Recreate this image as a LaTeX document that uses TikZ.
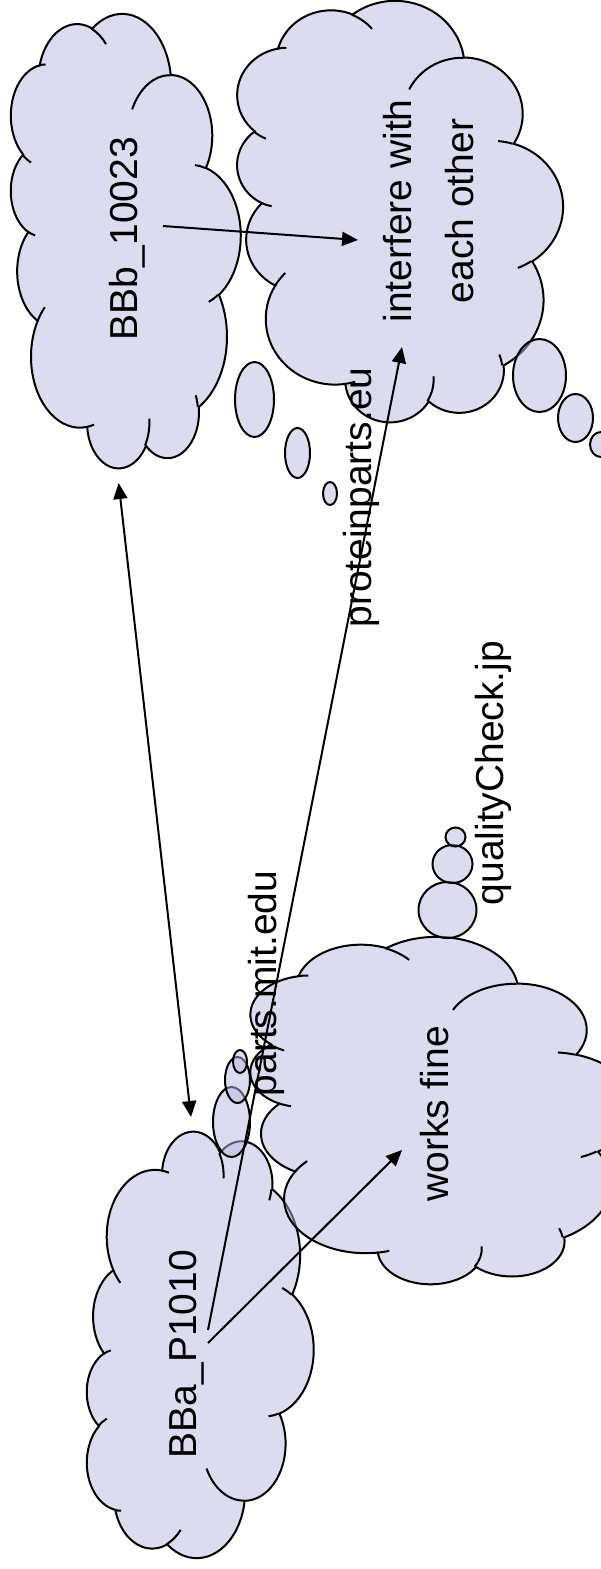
\documentclass[tikz,border=0pt]{standalone}
\usepackage{fontspec}
\setmainfont{Liberation Sans}
\usetikzlibrary{arrows.meta}

\definecolor{puffblue}{RGB}{185,185,225}

% one bump of a cloud: x radius, y radius, start and sweep angle (angles of the ray)
\tikzset{pa/.code n args={4}{%
  \pgfmathsetmacro\pafrom{atan2(#1*sin(#3),#2*cos(#3))}%
  \pgfmathsetmacro\pasweep{mod(atan2(#1*sin(#3+#4),#2*cos(#3+#4))-\pafrom+720,360)}%
  \tikzset{x radius=#1, y radius=#2, start angle=\pafrom, delta angle=\pasweep}}}

% cloud standing on its side: #1 left, #2 corner it grows from, #3 width,
% #4 height (upwards; negative grows downwards, i.e. a flipped cloud)
\newcommand{\thoughtcloud}[4]{%
  \pgfmathsetmacro\cloudw{#3/8640}%
  \pgfmathsetmacro\cloudh{#4/8640}%
  \begin{scope}[shift={(#1,#2)}, x={(0pt,\cloudh pt)}, y={(\cloudw pt,0pt)}]
    \filldraw[puff] (390,1437)
      arc[pa={675.3}{919.0}{-190.4875}{123.7805}]
      arc[pa={533.3}{726.7}{-144.1024}{89.9452}]
      arc[pa={436.5}{594.5}{-145.8079}{99.7230}]
      arc[pa={485.7}{659.5}{-130.9861}{117.2417}]
      arc[pa={533.3}{727.3}{-78.7089}{109.0269}]
      arc[pa={677.5}{922.0}{-46.2673}{130.2690}]
      arc[pa={578.5}{786.7}{0.6250}{114.0333}]
      arc[pa={675.2}{921.5}{22.4516}{115.1726}]
      arc[pa={772.0}{1054.3}{66.2426}{75.7110}]
      arc[pa={436.0}{591.8}{-274.9421}{146.7356}]
      arc[pa={434.5}{594.5}{-246.8285}{152.5189}]
      -- cycle;
    \draw (469.3,2617.7) arc[pa={434.5}{594.5}{86.742}{26.4295}]
          (692.8,3489.9) arc[pa={436.0}{591.8}{73.6105}{11.4475}]
          (1647.8,3909.0) arc[pa={675.2}{921.5}{137.6242}{14.0811}]
          (2882.7,3475.1) arc[pa={675.2}{921.5}{6.4533}{15.9984}]
          (3412.9,2295.4) arc[pa={578.5}{786.7}{-70.2924}{70.9174}]
          (4179.8,1535.4) arc[pa={533.3}{727.3}{30.318}{27.7515}]
          (3832.4,542.6) arc[pa={485.7}{659.5}{-13.7443}{14.8589}]
          (2907.8,395.2) arc[pa={485.7}{659.5}{-149.1815}{18.1954}]
          (2214.1,472.0) arc[pa={436.5}{594.5}{-163.4943}{17.6864}]
          (1400.0,519.2) arc[pa={675.3}{919.0}{-66.707}{12.3194}]
          (412.7,1578.9) arc[pa={675.3}{919.0}{157.6544}{11.8582}];
  \end{scope}}

\begin{document}
\begin{tikzpicture}[x=.5pt, y=-.5pt, line width=1pt,
    puff/.style={fill=puffblue, fill opacity=.5, draw=black},
    lbl/.style={rotate=90, inner sep=0pt, font=\fontsize{19.5}{31}\selectfont},
    >={Triangle[length=8pt,width=7pt]}]
  \useasboundingbox (0,0) rectangle (600,1569);

  % the four clouds
  \thoughtcloud{10}{468}{230}{454}
  \thoughtcloud{236}{422}{326}{421}
  \thoughtcloud{86}{1132}{227}{-426}
  \thoughtcloud{249}{1284}{384}{347}

  % bubbles
  \draw[puff] (254.5,399.5) ellipse[x radius=19.5, y radius=37.5];
  \draw[puff] (297.5,453)   ellipse[x radius=12.5, y radius=25];
  \draw[puff] (330,493.5)   ellipse[x radius=7,    y radius=11.5];
  \draw[puff] (539.5,375.5) ellipse[x radius=26.5, y radius=36.5];
  \draw[puff] (575.5,418)   ellipse[x radius=17.5, y radius=24];
  \draw[puff] (601,444.5)   ellipse[x radius=11,   y radius=12.5];
  \draw[puff] (231.5,1122)  ellipse[x radius=18.5, y radius=35];
  \draw[puff] (237.5,1080)  ellipse[x radius=12.5, y radius=23];
  \draw[puff] (240,1061.5)  ellipse[x radius=7,    y radius=11.5];
  \draw[puff] (447.5,910)   ellipse[x radius=29,   y radius=28];
  \draw[puff] (452.5,864)   ellipse[x radius=20,   y radius=19];
  \draw[puff] (455.5,837)   ellipse[x radius=10,   y radius=9.5];

  % texts
  \node[lbl, anchor=base] (bbb)     at (137,239)  {BBb\_10023};
  \node[lbl, align=center] (inter)  at (429,211)  {interfere with\\each other};
  \node[lbl, anchor=base] (protein) at (371,497.5) {proteinparts.eu};
  \node[lbl, anchor=base] (quality) at (503,773)  {qualityCheck.jp};
  \node[lbl, anchor=base] (mit)     at (276,983.5) {parts.mit.edu};
  \node[lbl, anchor=base] (works)   at (448,1114) {works fine};
  \node[lbl, anchor=base] (bba)     at (196,1354) {BBa\_P1010};

  % arrow ends
  \coordinate (bbbfoot)  at (118.6,483);
  \coordinate (bbatop)   at (191,1117);
  \coordinate (bbbout)   at (163,226);
  \coordinate (interin)  at (358,240);
  \coordinate (bbaup)    at (208,1330);
  \coordinate (bbaside)  at (208,1343);
  \coordinate (interlow) at (402,347);
  \coordinate (worksin)  at (402,1150);

  \draw[<->] (bbbfoot) -- (bbatop);
  \draw[->] (bbbout) -- (interin);
  \draw[->] (bbaup) -- (interlow);
  \draw[->] (bbaside) -- (worksin);
\end{tikzpicture}
\end{document}
